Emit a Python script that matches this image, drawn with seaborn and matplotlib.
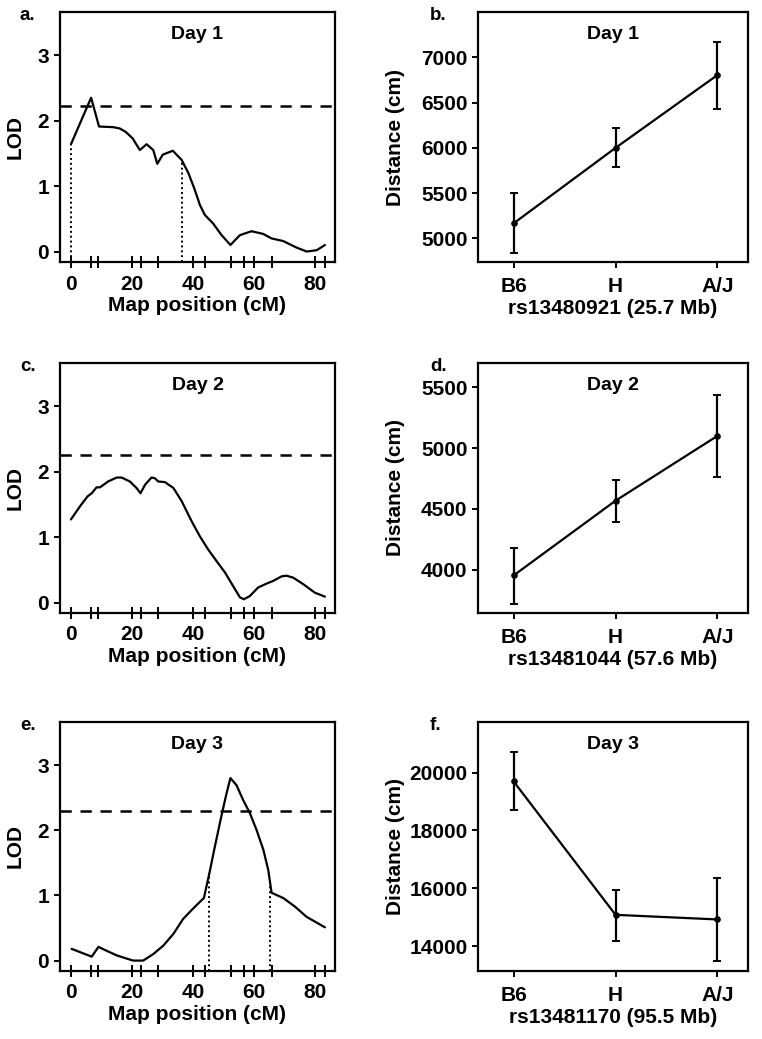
import numpy as np
import matplotlib
matplotlib.use("Agg")
import matplotlib.pyplot as plt
import seaborn as sns

# LOD profiles (map position in cM, LOD score)
day1_pos = [0, 6.6, 9.2, 13.9, 16.0, 17.9, 20.2, 22.6, 24.8, 27.0, 28.3, 30.1, 33.4, 36.3, 38.5,
            40.4, 42.3, 43.9, 46.6, 49.4, 52.3, 55.4, 59.2, 63.0, 65.8, 69.6, 74.0, 77.3, 80.6, 83.3]
day1_lod = [1.64, 2.35, 1.91, 1.90, 1.88, 1.83, 1.73, 1.55, 1.64, 1.55, 1.34, 1.48, 1.54, 1.40, 1.20,
            0.97, 0.71, 0.56, 0.43, 0.25, 0.10, 0.25, 0.31, 0.27, 0.20, 0.16, 0.06, 0.0, 0.02, 0.10]

day2_pos = [0, 2.95, 5.4, 6.8, 8.4, 9.5, 12.2, 15.0, 16.6, 19.3, 21.5, 22.8, 24.3, 26.4, 27.5, 28.6,
            30.8, 33.6, 36.3, 39.6, 42.3, 45.0, 47.8, 50.5, 53.2, 55.4, 56.7, 58.7, 61.4, 64.2, 66.3,
            69.1, 70.7, 72.9, 76.2, 80.0, 83.3]
day2_lod = [1.27, 1.47, 1.62, 1.67, 1.76, 1.76, 1.85, 1.91, 1.91, 1.85, 1.75, 1.67, 1.80, 1.91, 1.90, 1.85,
            1.84, 1.75, 1.55, 1.24, 1.01, 0.81, 0.63, 0.46, 0.25, 0.08, 0.05, 0.10, 0.23, 0.29, 0.33,
            0.40, 0.41, 0.38, 0.28, 0.15, 0.09]

day3_pos = [0.2, 3.5, 6.8, 9.0, 11.7, 15.0, 18.3, 20.4, 23.7, 27.0, 30.3, 33.6, 36.8, 40.1, 43.6,
            45.4, 47.2, 49.4, 51.0, 52.3, 54.3, 56.5, 58.7, 60.9, 63.1, 64.7, 65.8, 69.6, 73.4, 77.3, 83.3]
day3_lod = [0.18, 0.12, 0.06, 0.21, 0.15, 0.08, 0.03, 0.0, 0.0, 0.10, 0.23, 0.41, 0.64, 0.80, 0.96,
            1.34, 1.75, 2.23, 2.56, 2.80, 2.69, 2.46, 2.26, 2.00, 1.70, 1.39, 1.04, 0.96, 0.83, 0.67, 0.51]

thresholds = [2.22, 2.25, 2.29]
intervals = [(0, 36.3), None, (45.4, 65.2)]
markers = [0, 6.5, 9.0, 22.9, 28.4, 43.9, 52.5, 56.8, 66.0, 83.3]

# genotype effect plots: mean and error bar limits
genotypes = ["B6", "H", "A/J"]
day1_mean = [5167, 6000, 6804]
day1_lo = [4844, 5785, 6433]
day1_hi = [5500, 6222, 7167]
day2_mean = [3954, 4568, 5101]
day2_lo = [3721, 4396, 4765]
day2_hi = [4180, 4738, 5440]
day3_mean = [19690, 15080, 14920]
day3_lo = [18701, 14172, 13471]
day3_hi = [20713, 15954, 16345]
snp_labels = ["rs13480921 (25.7 Mb)", "rs13481044 (57.6 Mb)", "rs13481170 (95.5 Mb)"]
days = ["Day 1", "Day 2", "Day 3"]

sns.set_style("ticks")
plt.rcParams["font.family"] = ["Liberation Sans", "DejaVu Sans"]
plt.rcParams["font.weight"] = "bold"
plt.rcParams["axes.labelweight"] = "bold"
for k in ["text.color", "axes.labelcolor", "xtick.color", "ytick.color", "axes.edgecolor"]:
    plt.rcParams[k] = "black"

fig = plt.figure(figsize=(7.62, 10.39), dpi=100)

rows = [(12, 262), (363, 613), (722, 971)]
W, H = 762.0, 1039.0

lod_pos = [day1_pos, day2_pos, day3_pos]
lod_val = [day1_lod, day2_lod, day3_lod]
eff = [(day1_mean, day1_lo, day1_hi), (day2_mean, day2_lo, day2_hi), (day3_mean, day3_lo, day3_hi)]
ylims = [(4740, 7500), (3645, 5700), (13138, 21747)]
yticks = [[5000, 5500, 6000, 6500, 7000], [4000, 4500, 5000, 5500], [14000, 16000, 18000, 20000]]
letters = [("a.", "b."), ("c.", "d."), ("e.", "f.")]

for i, (top, bot) in enumerate(rows):
    b = 1 - bot / H
    h = (bot - top) / H

    # LOD profile panel
    ax = fig.add_axes([60 / W, b, 275 / W, h])
    sns.lineplot(x=lod_pos[i], y=lod_val[i], ax=ax, color="black", lw=1.6)
    ax.axhline(thresholds[i], color="black", lw=1.8, ls=(0, (4.5, 3.5)))
    ax.set_xlim(-3.6, 86.6)
    ax.set_ylim(-0.16, 3.66)
    if intervals[i] is not None:
        for xv in intervals[i]:
            yv = np.interp(xv, lod_pos[i], lod_val[i])
            ax.vlines(xv, -0.16, yv, colors="black", lw=1.4, linestyles=(0, (1, 1.5)))
    ax.set_xticks([0, 20, 40, 60, 80])
    ax.set_xticks(markers, minor=True)
    ax.set_yticks([0, 1, 2, 3])
    ax.tick_params(axis="x", which="both", direction="inout", length=8, width=1.4, labelsize=15, pad=5)
    ax.tick_params(axis="y", direction="out", length=4, width=1.4, labelsize=15, pad=4)
    ax.set_xlabel("Map position (cM)", fontsize=15, labelpad=2)
    ax.set_ylabel("LOD", fontsize=15)
    ax.yaxis.set_label_coords(-0.13, 0.5)
    ax.text(0.5, 0.945, days[i], transform=ax.transAxes, ha="center", va="top",
            fontsize=14, fontweight="bold")
    for s in ax.spines.values():
        s.set_linewidth(1.6)
    fig.text(20 / W, 1 - (top + 4) / H, letters[i][0], fontsize=13.5, fontweight="bold", va="center")

    # genotype effect panel
    mean, lo, hi = eff[i]
    xs = np.arange(len(genotypes))
    ax2 = fig.add_axes([478 / W, b, 270 / W, h])
    sns.lineplot(x=xs, y=mean, ax=ax2, color="black", lw=1.6, marker="o", ms=4,
                 markeredgecolor="black")
    yerr = [np.array(mean) - np.array(lo), np.array(hi) - np.array(mean)]
    ax2.errorbar(xs, mean, yerr=yerr, fmt="none", ecolor="black", elinewidth=1.6,
                 capsize=3, capthick=1.4)
    ax2.set_xlim(-0.35, 2.3)
    ax2.set_ylim(*ylims[i])
    ax2.set_yticks(yticks[i])
    ax2.set_xticks(xs)
    ax2.set_xticklabels(genotypes)
    ax2.tick_params(axis="both", direction="out", length=4, width=1.4, labelsize=15)
    ax2.tick_params(axis="x", pad=7)
    ax2.set_xlabel(snp_labels[i], fontsize=15, labelpad=2)
    ax2.set_ylabel("Distance (cm)", fontsize=15)
    ax2.yaxis.set_label_coords(-0.27, 0.5)
    ax2.text(0.5, 0.945, days[i], transform=ax2.transAxes, ha="center", va="top",
             fontsize=14, fontweight="bold")
    for s in ax2.spines.values():
        s.set_linewidth(1.6)
    fig.text(430 / W, 1 - (top + 4) / H, letters[i][1], fontsize=13.5, fontweight="bold", va="center")

fig.savefig("out.png", dpi=100)
